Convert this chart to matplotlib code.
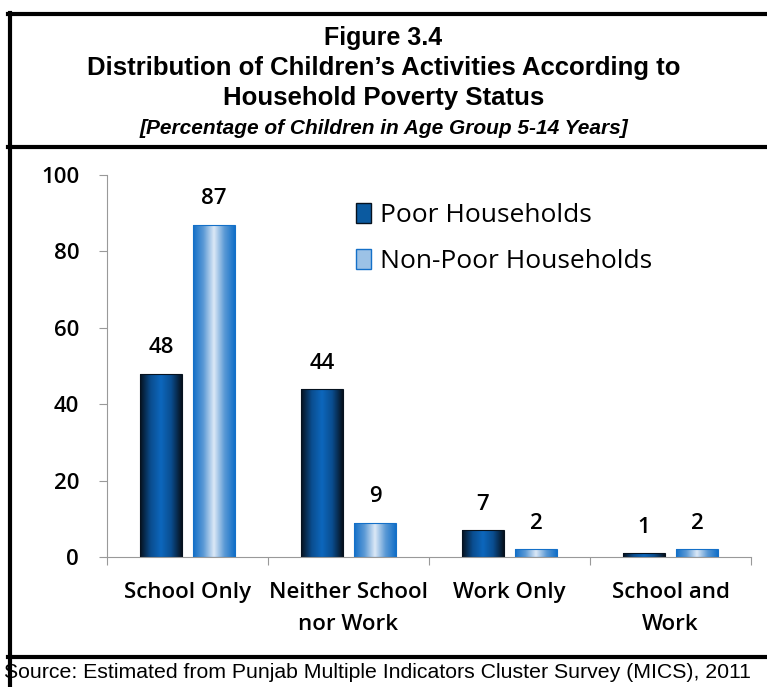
import numpy as np
import matplotlib.pyplot as plt
from matplotlib.patches import Patch
from matplotlib.lines import Line2D
from matplotlib.colors import LinearSegmentedColormap

# Datos
categorias = ['School Only', 'Neither School\nnor Work', 'Work Only', 'School and\nWork']
pobres = [48, 44, 7, 1]
no_pobres = [87, 9, 2, 2]
series = ['Poor Households', 'Non-Poor Households']

fig = plt.figure(figsize=(7.67, 6.87), dpi=100)
ax = fig.add_axes([107 / 767, 1 - 557 / 687, 644 / 767, 382 / 687])

x = np.arange(len(categorias))
ancho = 0.26
desp = 0.165

cmap_pobre = LinearSegmentedColormap.from_list('p', ['#06121f', '#0a4d8f', '#0d67bd', '#0a4d8f', '#06121f'])
cmap_nopobre = LinearSegmentedColormap.from_list('np', ['#1470c8', '#5d9bd6', '#dde9f6', '#5d9bd6', '#1470c8'])
grad = np.linspace(0, 1, 64).reshape(1, -1)


def barras_gradiente(pos, valores, cmap, borde):
    barras = ax.bar(pos, valores, ancho, color='none', edgecolor=borde, linewidth=0.8, zorder=3)
    for b in barras:
        x0, y0 = b.get_x(), b.get_y()
        im = ax.imshow(grad, cmap=cmap, aspect='auto', zorder=2,
                       extent=[x0, x0 + b.get_width(), y0, y0 + b.get_height()])
        im.set_clip_path(b)
    return barras


b1 = barras_gradiente(x - desp, pobres, cmap_pobre, '#06121f')
b2 = barras_gradiente(x + desp, no_pobres, cmap_nopobre, '#1470c8')

for barras, vals in [(b1, pobres), (b2, no_pobres)]:
    for b, v in zip(barras, vals):
        ax.text(b.get_x() + b.get_width() / 2, v + 4, str(v), ha='center', va='bottom',
                fontsize=16, fontfamily='Open Sans', fontweight='semibold')

ax.set_xlim(-0.5, 3.5)
ax.set_ylim(0, 100)
ax.set_yticks(range(0, 101, 20))
ax.set_xticks([-0.5, 0.5, 1.5, 2.5, 3.5])
ax.set_xticklabels([])
ax.set_xticks(x, minor=True)
ax.set_xticklabels(categorias, minor=True, fontsize=16, fontfamily='Open Sans',
                   fontweight='semibold', linespacing=1.7)
ax.tick_params(axis='x', which='minor', length=0, pad=18)
ax.tick_params(axis='x', which='major', length=6, color='#999999', direction='out')
ax.tick_params(axis='y', length=6, color='#999999', pad=14)
for t in ax.get_yticklabels():
    t.set_fontsize(16)
    t.set_fontfamily('Open Sans')
    t.set_fontweight('semibold')
for s in ['top', 'right']:
    ax.spines[s].set_visible(False)
for s in ['left', 'bottom']:
    ax.spines[s].set_color('#999999')
    ax.spines[s].set_linewidth(0.8)

handles = [Patch(facecolor='#0b5aa0', edgecolor='#06121f'),
           Patch(facecolor='#9cc2e6', edgecolor='#1470c8')]
ax.legend(handles, series, loc='upper left', bbox_to_anchor=(0.35, 0.99), frameon=False,
          prop={'family': 'Open Sans', 'size': 19}, handlelength=0.55, handleheight=0.8,
          handletextpad=0.35, labelspacing=0.8)

# Titulos
tf = dict(ha='center', va='center', fontweight='bold', fontfamily='Liberation Sans')
fig.text(0.5, 1 - 38 / 687, 'Figure 3.4', fontsize=18, **tf)
fig.text(0.5, 1 - 68 / 687, 'Distribution of Children\u2019s Activities According to', fontsize=18.5, **tf)
fig.text(0.5, 1 - 98 / 687, 'Household Poverty Status', fontsize=18.5, **tf)
fig.text(0.5, 1 - 128 / 687, '[Percentage of Children in Age Group 5-14 Years]', fontsize=15,
         fontstyle='italic', **tf)
fig.text(4 / 767, 1 - 672 / 687, 'Source: Estimated from Punjab Multiple Indicators Cluster Survey (MICS), 2011',
         ha='left', va='center', fontsize=15.3, fontfamily='Liberation Sans')

# Marcos
for y in [14, 147, 657]:
    fig.add_artist(Line2D([8 / 767, 1], [1 - y / 687] * 2, color='black', lw=3, transform=fig.transFigure))
fig.add_artist(Line2D([9.5 / 767] * 2, [1 - 13 / 687, 0], color='black', lw=3, transform=fig.transFigure))

fig.savefig('out.png', dpi=100)
